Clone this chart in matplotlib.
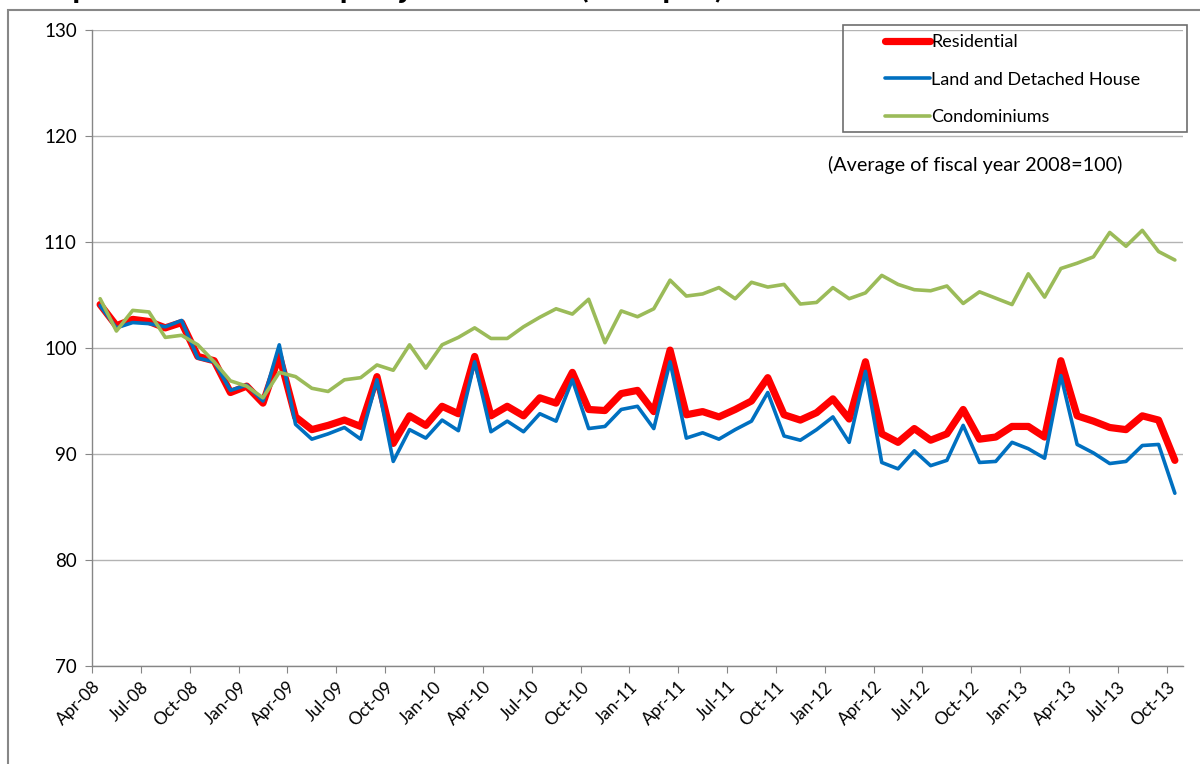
import numpy as np
import matplotlib.pyplot as plt
from matplotlib.patches import Rectangle

# monthly index, Apr-08 .. Oct-13 (average of fiscal year 2008 = 100)
months = ["Apr-08", "Jul-08", "Oct-08", "Jan-09", "Apr-09", "Jul-09", "Oct-09", "Jan-10",
          "Apr-10", "Jul-10", "Oct-10", "Jan-11", "Apr-11", "Jul-11", "Oct-11", "Jan-12",
          "Apr-12", "Jul-12", "Oct-12", "Jan-13", "Apr-13", "Jul-13", "Oct-13"]

residential = [104.1, 102.1, 102.7, 102.5, 101.9, 102.4, 99.2, 98.8, 95.8, 96.4,
               94.8, 99.3, 93.5, 92.3, 92.7, 93.2, 92.6, 97.3, 91.0, 93.6,
               92.7, 94.5, 93.8, 99.2, 93.6, 94.5, 93.6, 95.3, 94.8, 97.7,
               94.2, 94.1, 95.7, 96.0, 94.0, 99.8, 93.7, 94.0, 93.5, 94.2,
               95.0, 97.2, 93.7, 93.2, 93.9, 95.2, 93.3, 98.7, 91.9, 91.1,
               92.4, 91.3, 91.9, 94.2, 91.4, 91.6, 92.6, 92.6, 91.6, 98.8,
               93.6, 93.1, 92.5, 92.3, 93.6, 93.2, 89.4]

land_house = [104.0, 101.9, 102.4, 102.3, 102.0, 102.6, 99.05, 98.7, 96.0, 96.5,
              95.0, 100.3, 92.8, 91.4, 91.9, 92.5, 91.4, 97.0, 89.3, 92.3,
              91.5, 93.2, 92.2, 98.7, 92.1, 93.1, 92.1, 93.8, 93.1, 97.0,
              92.4, 92.6, 94.2, 94.5, 92.4, 98.7, 91.5, 92.0, 91.4, 92.3,
              93.1, 95.8, 91.7, 91.3, 92.3, 93.5, 91.1, 97.8, 89.2, 88.6,
              90.3, 88.9, 89.4, 92.7, 89.2, 89.3, 91.1, 90.5, 89.6, 97.4,
              90.9, 90.1, 89.1, 89.3, 90.8, 90.9, 86.3]

condos = [104.65, 101.6, 103.55, 103.4, 101.0, 101.2, 100.3, 98.7, 96.9, 96.4,
          95.3, 97.7, 97.3, 96.2, 95.9, 97.0, 97.2, 98.4, 97.9, 100.3,
          98.1, 100.3, 101.0, 101.9, 100.9, 100.9, 102.0, 102.9, 103.7, 103.2,
          104.6, 100.5, 103.5, 102.95, 103.7, 106.4, 104.9, 105.1, 105.7, 104.65,
          106.2, 105.75, 106.0, 104.15, 104.3, 105.7, 104.65, 105.2, 106.85, 106.0,
          105.5, 105.4, 105.85, 104.2, 105.3, 104.7, 104.1, 107.0, 104.8, 107.5,
          108.0, 108.6, 110.9, 109.6, 111.1, 109.1, 108.3]

plt.rcParams['font.family'] = ['Lato', 'DejaVu Sans']

fig = plt.figure(figsize=(12, 7.64), dpi=100)
ax = fig.add_axes([92/1200, 1-666/764, 1091/1200, 636/764])

x = np.arange(len(residential))
ax.plot(x, residential, color='#FF0000', lw=5.2, label='Residential',
        solid_capstyle='round', solid_joinstyle='round', zorder=3)
ax.plot(x, land_house, color='#0070C0', lw=2.6, label='Land and Detached House',
        solid_capstyle='round', solid_joinstyle='round', zorder=4)
ax.plot(x, condos, color='#9BBB59', lw=2.6, label='Condominiums',
        solid_capstyle='round', solid_joinstyle='round', zorder=5)

ax.set_xlim(-0.5, len(residential) - 0.5)
ax.set_ylim(70, 130)
ax.set_yticks(np.arange(70, 131, 10))
ax.set_xticks(np.arange(len(months)) * 3 - 0.5)
ax.set_xticklabels(months, rotation=45, ha='right', rotation_mode='anchor', fontsize=12.5)
ax.tick_params(axis='y', labelsize=13.5, length=5, color='#868686', pad=6)
ax.tick_params(axis='x', length=5, color='#868686', pad=4)
ax.yaxis.grid(True, color='#B3B3B3', lw=1)
ax.set_axisbelow(True)
for s in ['top', 'right']:
    ax.spines[s].set_visible(False)
for s in ['left', 'bottom']:
    ax.spines[s].set_color('#868686')
    ax.spines[s].set_linewidth(1)

ax.text((828-92)/1091, (666-165)/636, "(Average of fiscal year 2008=100)",
        transform=ax.transAxes, fontsize=14.2, va='center', ha='left')

# legend box and entries
fig.patches.append(Rectangle((843/1200, 1-132/764), 344/1200, 107/764,
                             transform=fig.transFigure, fill=False,
                             edgecolor='#6E6E6E', lw=1.2, zorder=6))
fig.legend(loc='upper left', bbox_to_anchor=(885/1200, 1-34/764), frameon=False,
           fontsize=13, handlelength=2.5, handletextpad=0.05, borderpad=0,
           borderaxespad=0, labelspacing=1.2)

# outer chart border
fig.patches.append(Rectangle((8/1200, -0.1), 1.2, 1.1 - 10/764,
                             transform=fig.transFigure, fill=False,
                             edgecolor='#878787', lw=1.5))

# title, mostly cut off at the top of the picture
fig.text(12/1200, 1 + 3/764, "【Japan Residential Property Price Index (all Japan)】",
         fontsize=20, fontweight='bold', va='baseline', ha='left',
         family=['Noto Sans CJK JP', 'DejaVu Sans'])

fig.savefig('out.png', dpi=100)
